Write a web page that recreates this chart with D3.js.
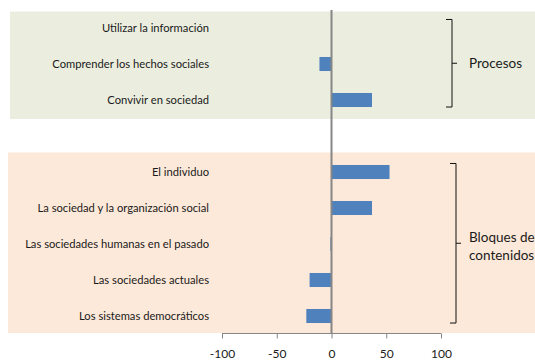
<!DOCTYPE html>
<html>
<head>
<meta charset="utf-8">
<script src="https://cdn.jsdelivr.net/npm/d3@7"></script>
<style>
  html, body { margin: 0; padding: 0; background: #fff; overflow: hidden; }
  svg { display: block; }
  text { font-family: Lato, "Open Sans", sans-serif; fill: #1a1a1a; }
</style>
</head>
<body>
<svg id="chart" width="535" height="362"></svg>
<script>
// Categories top to bottom; the empty string is a spacer row between groups
const categories = [
  "Utilizar la información",
  "Comprender los hechos sociales",
  "Convivir en sociedad",
  "",
  "El individuo",
  "La sociedad y la organización social",
  "Las sociedades humanas en el pasado",
  "Las sociedades actuales",
  "Los sistemas democráticos"
];
const values = [0, -11, 37, null, 53, 37, -1, -20, -23];
const xTicks = [-100, -50, 0, 50, 100];

// Groups with their bracket labels
const groupLines = [["Procesos"], ["Bloques de", "contenidos"]];
const groupFirst = [categories[0], categories[4]];
const groupLast = [categories[2], categories[8]];
const groupFill = ["#ebeedf", "#fde9d9"];

const svg = d3.select("#chart");

const x = d3.scaleLinear().domain([-100, 100]).range([222, 441]);
const y = d3.scaleBand().domain(categories).range([10, 334]).paddingInner(0.61).paddingOuter(0.305);

// Background panels for the two groups
const panels = [
  { x0: 10, y0: 11.5, y1: 119 },
  { x0: 8, y0: 152.5, y1: 333 }
];
svg.selectAll("rect.panel").data(panels).join("rect")
  .attr("class", "panel")
  .attr("x", d => d.x0).attr("y", d => d.y0)
  .attr("width", d => 535 - d.x0).attr("height", d => d.y1 - d.y0)
  .attr("fill", (d, i) => groupFill[i]);

// Bars
const barData = categories.map((c, i) => ({ c, v: values[i] })).filter(d => d.v !== null && d.v !== 0);
svg.selectAll("rect.bar").data(barData).join("rect")
  .attr("class", "bar")
  .attr("x", d => x(Math.min(0, d.v)))
  .attr("y", d => y(d.c))
  .attr("width", d => Math.abs(x(d.v) - x(0)))
  .attr("height", y.bandwidth())
  .attr("fill", "#4f81bd");

// Category labels
svg.selectAll("text.cat").data(categories.filter(c => c)).join("text")
  .attr("class", "cat")
  .attr("x", 209)
  .attr("y", d => y(d) + y.bandwidth() / 2)
  .attr("dy", "0.35em")
  .attr("text-anchor", "end")
  .attr("font-size", 11.2)
  .text(d => d);

// Bottom axis
const axis = d3.axisBottom(x).tickValues(xTicks).tickSize(5).tickPadding(11).tickFormat(d => String(d));
const gx = svg.append("g").attr("transform", "translate(0,333.5)").call(axis);
gx.select(".domain").attr("stroke", "#868686").attr("d", `M${x(-100)},0H${x(100)}`);
gx.selectAll(".tick line").attr("stroke", "#868686");
gx.selectAll(".tick text").attr("font-size", 12).attr("fill", "#1a1a1a")
  .style("font-family", "Lato, 'Open Sans', sans-serif");

// Zero line across the full height
svg.append("line")
  .attr("x1", x(0)).attr("x2", x(0))
  .attr("y1", 10).attr("y2", 333.5)
  .attr("stroke", "#868686").attr("stroke-width", 2);

// Group brackets
const bracketX = [452, 456];
bracketX.forEach((bx, i) => {
  const top = y(groupFirst[i]) - 1.5;
  const bot = y(groupLast[i]) + y.bandwidth();
  const mid = (top + bot) / 2;
  svg.append("path")
    .attr("d", `M${bx - 6},${top}H${bx}V${bot}H${bx - 6}M${bx},${mid}H${bx + 5}`)
    .attr("fill", "none").attr("stroke", "#111").attr("stroke-width", 1);
  const lines = groupLines[i];
  const t = svg.append("text")
    .attr("x", 469).attr("y", lines.length > 1 ? mid - 5.5 : mid)
    .attr("font-size", 13.5);
  lines.forEach((w, k) => {
    t.append("tspan").attr("x", 469).attr("dy", k === 0 ? "0.35em" : 18).text(w);
  });
});
</script>
</body>
</html>
